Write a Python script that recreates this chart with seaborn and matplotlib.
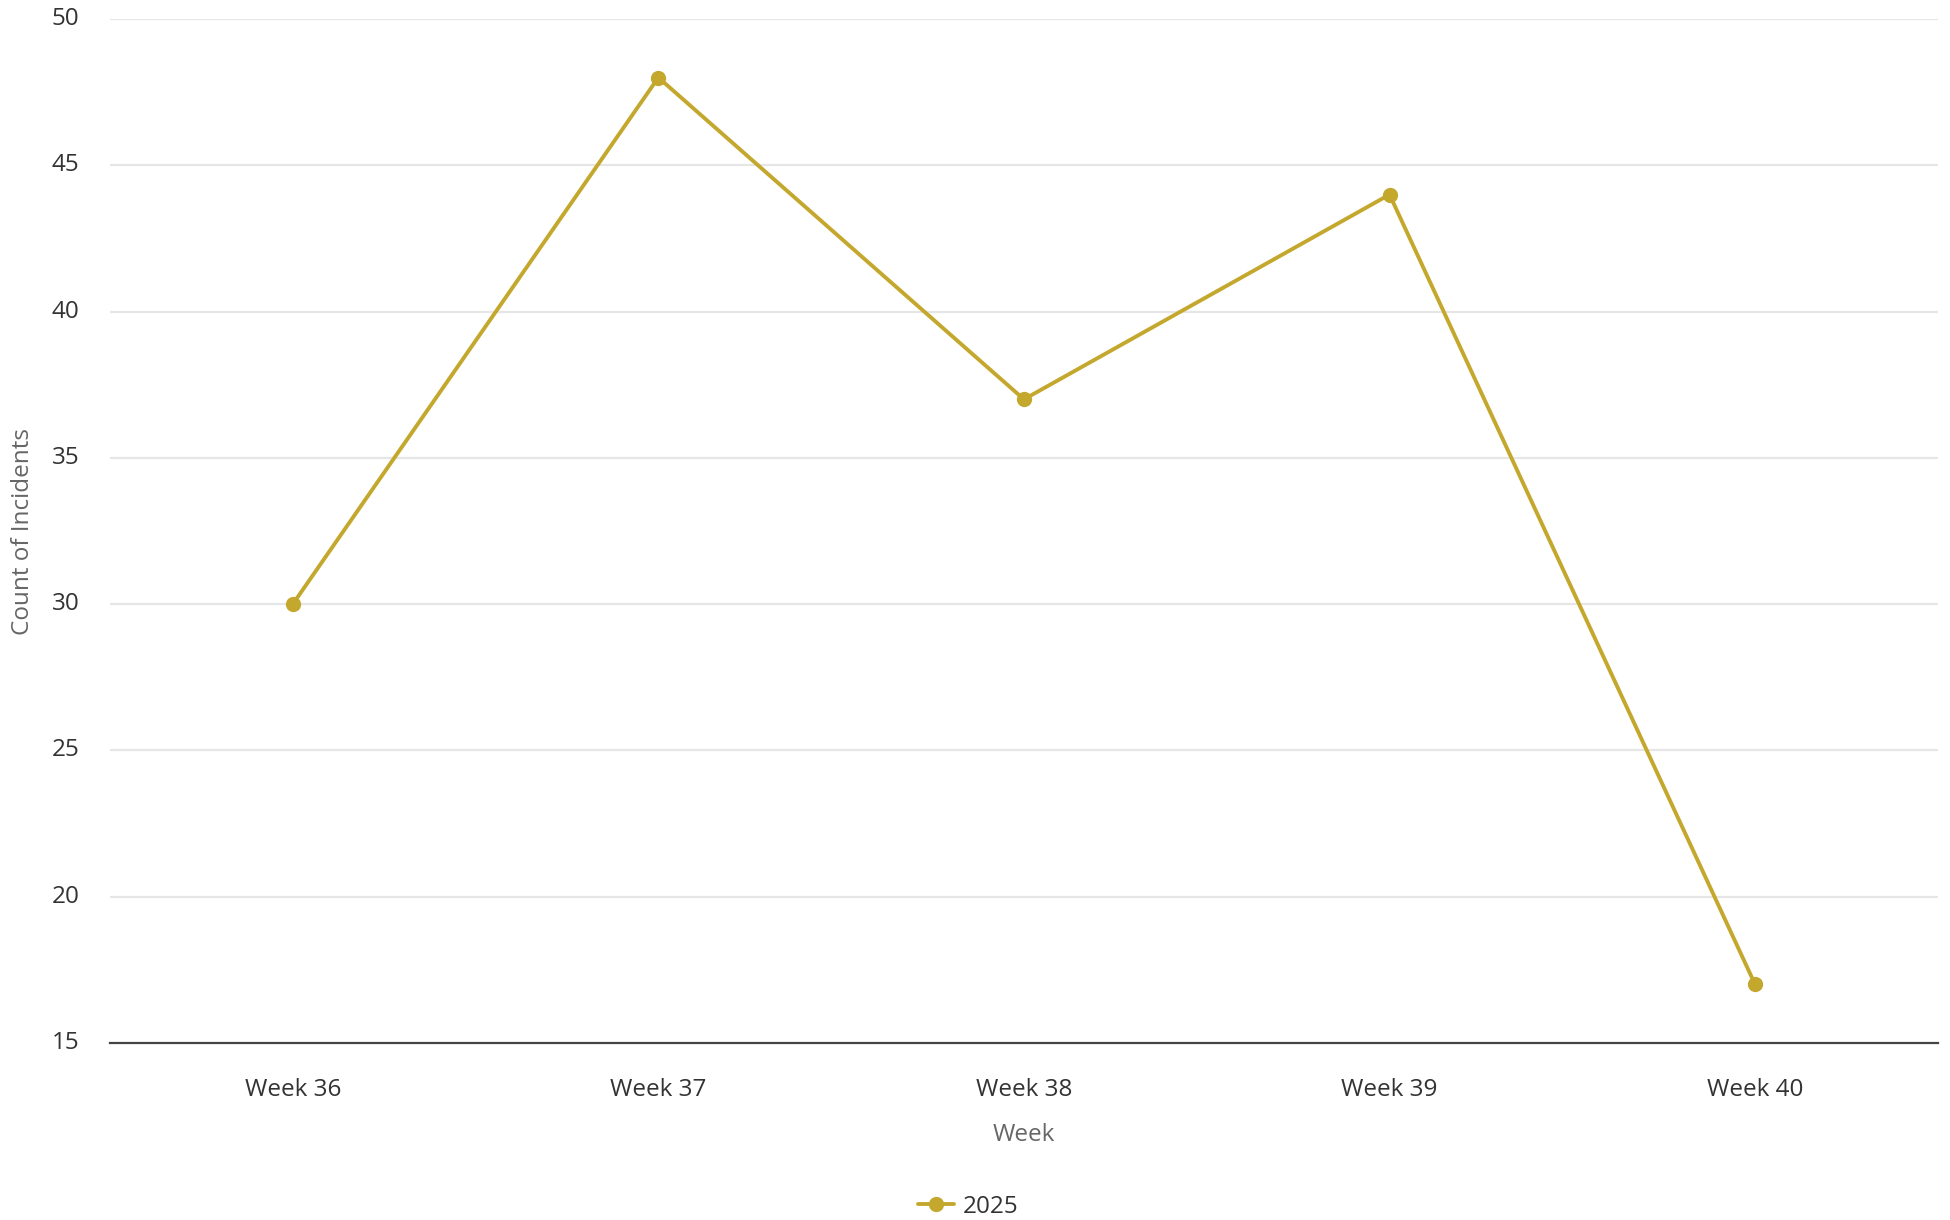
import matplotlib
matplotlib.use("Agg")
import matplotlib.pyplot as plt
import seaborn as sns
import pandas as pd
from matplotlib.lines import Line2D

weeks = ["Week 36", "Week 37", "Week 38", "Week 39", "Week 40"]
counts = [30, 48, 37, 44, 17]
series_name = "2025"
y_ticks = [15, 20, 25, 30, 35, 40, 45, 50]

sns.set_theme(style="white")
plt.rcParams['font.family'] = ['Open Sans', 'DejaVu Sans']

df = pd.DataFrame({"Week": weeks, "Count": counts, "Year": series_name})

fig = plt.figure(figsize=(19.5, 12.2), dpi=100)
ax = fig.add_axes([0.0564, 0.1451, 0.9374, 0.8393])

color = "#C4A82E"
sns.lineplot(data=df, x="Week", y="Count", hue="Year", palette=[color],
             marker="o", markersize=11, markeredgewidth=0, linewidth=2.8,
             sort=False, ax=ax, legend=False)

ax.set_xlim(-0.5, len(weeks) - 0.5)
ax.set_ylim(15, 50)
ax.set_yticks(y_ticks)
ax.set_yticklabels([str(t) for t in y_ticks])
for t in y_ticks[1:]:
    ax.axhline(t, color="#E6E6E6", linewidth=1.6, zorder=0)

for s in ["top", "right", "left"]:
    ax.spines[s].set_visible(False)
ax.spines["bottom"].set_color("#444444")
ax.spines["bottom"].set_linewidth(1.6)

ax.tick_params(axis="both", length=0, labelsize=17.5, colors="#333333")
ax.tick_params(axis="x", pad=25)
ax.tick_params(axis="y", pad=22)
for lab in ax.get_yticklabels():
    lab.set_verticalalignment("center")

ax.set_xlabel("Week", fontsize=17.5, color="#666666", labelpad=15)
ax.set_ylabel("Count of Incidents", fontsize=17.5, color="#666666")
ax.yaxis.set_label_coords(-0.041, 0.5)

handle = Line2D([0], [0], color=color, linewidth=2.8, marker="o", markersize=11,
                markeredgewidth=0)
fig.legend([handle], [series_name], loc="center", bbox_to_anchor=(0.4965, 0.011),
           frameon=False, fontsize=17.5, handlelength=1.5, handletextpad=0.35,
           labelcolor="#333333")

fig.savefig("out.png", dpi=100, facecolor="white")
